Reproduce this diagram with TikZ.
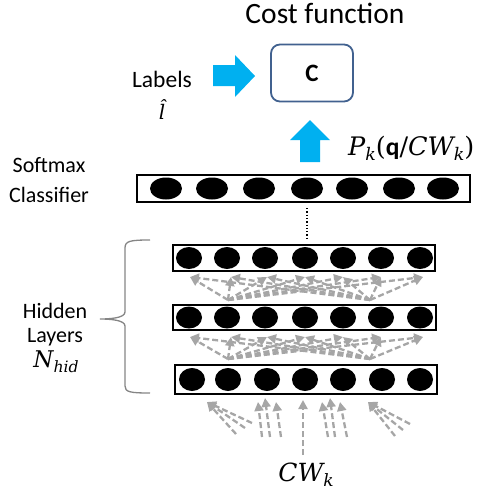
\documentclass[tikz,border=0pt]{standalone}
\usepackage{fontspec}
\usepackage{graphicx}
\setmainfont{Carlito}
\newfontfamily\dvs{DejaVu Serif}
\newcommand\mvar[1]{{\dvs\itshape #1}}
\newcommand\msub[1]{\raisebox{-0.22em}{\scalebox{0.68}{\mvar{#1}}}}
\usetikzlibrary{arrows.meta,shapes.geometric}
\definecolor{arrblue}{HTML}{00B0F0}
\definecolor{boxblue}{HTML}{41618F}
\definecolor{dgray}{HTML}{A6A6A6}
\begin{document}
\begin{tikzpicture}[x=1pt,y=-1pt,
  lbl/.style={font=\fontsize{22}{24}\selectfont, inner sep=0, anchor=base},
  layerbox/.style={draw=black, line width=2.2pt, inner sep=0},
  unit/.style={fill=black, ellipse, inner sep=0, minimum width=26pt, minimum height=22pt},
  sunit/.style={fill=black, ellipse, inner sep=0, minimum width=32pt, minimum height=22pt},
  garrow/.style={draw=dgray, line width=2.3pt, dash pattern=on 6pt off 3pt,
    -{Triangle[length=9pt,width=9pt]}},
  blockarrow/.style={fill=arrblue, draw=none}
]
\useasboundingbox (0,0) rectangle (484,496);

% titles and labels
\node[lbl, font=\fontsize{29.5}{32}\selectfont] (title) at (325,23) {Cost function};
\node[lbl, font=\fontsize{23.5}{26}\selectfont] (labels) at (162,87) {Labels};
\node[lbl, font=\fontsize{20}{24}\selectfont] (lhat) at (162,119) {\mvar{\^{l}}};
\node[lbl] (soft) at (49,172) {Softmax};
\node[lbl] (clas) at (49,202) {Classifier};
\node[lbl] (hid1) at (55,318) {Hidden};
\node[lbl] (hid2) at (55,342) {Layers};
\node[lbl, font=\fontsize{23}{26}\selectfont] (hid3) at (56,367) {\mvar{N}\msub{hid}};
\node[lbl, anchor=base west, font=\fontsize{25.5}{28}\selectfont] (pk) at (348,155)
  {\mvar{P}\msub{k}{\dvs(}\textbf{q}{\dvs/}\mvar{CW}\msub{k}{\dvs)}};
\node[lbl, font=\fontsize{25}{28}\selectfont] (cw) at (306,481) {\mvar{CW}\msub{k}};

% cost box
\node[draw=boxblue, line width=1.8pt, rounded corners=9pt, minimum width=82pt, minimum height=57pt,
  font=\fontsize{25}{28}\selectfont\bfseries] (C) at (312,73) {C};

% blue block arrows
\fill[blockarrow] (213,65) -- (235,65) -- (235,55) -- (255,76) -- (235,97) -- (235,86) -- (213,86) -- cycle;
\fill[blockarrow] (300,162) -- (300,140) -- (290,140) -- (310,120) -- (330,140) -- (320,140) -- (320,162) -- cycle;

% softmax layer
\node[layerbox, minimum width=333pt, minimum height=27pt] (sm) at (303.5,188.5) {};
\foreach \x [count=\i] in {166,212,259,307,352,399,443}
  \node[sunit] (s\i) at (\x,188.5) {};

% hidden layers
\node[layerbox, minimum width=262pt, minimum height=26pt] (h1) at (304,258) {};
\node[layerbox, minimum width=263pt, minimum height=25pt] (h2) at (304.5,317.5) {};
\node[layerbox, minimum width=262pt, minimum height=29pt] (h3) at (306,379.5) {};
\foreach \x [count=\i] in {189,227,265,305,343,381,420}{
  \node[unit] (a\i) at (\x,258) {};
  \node[unit] (b\i) at (\x,317.5) {};
}
\foreach \x [count=\i] in {192,228,267,305,343,382,420}
  \node[unit, minimum height=23pt] (c\i) at (\x,379.5) {};

% dotted link
\coordinate (d1) at (307,208);
\coordinate (d2) at (307,238);
\draw[line width=1.3pt, dash pattern=on 1.3pt off 2pt] (d1) -- (d2);

% connections between layers
\coordinate (pL1) at (228,300);
\coordinate (pR1) at (370,300);
\coordinate (pL2) at (228,359);
\coordinate (pR2) at (370,359);
\foreach \x [count=\i] in {190,231,267,305,343,381,423}{
  \coordinate (t1\i) at (\x,277);
  \coordinate (t2\i) at (\x,337);
  \draw[garrow] (pL1) -- (t1\i);
  \draw[garrow] (pR1) -- (t1\i);
  \draw[garrow] (pL2) -- (t2\i);
  \draw[garrow] (pR2) -- (t2\i);
}

% input arrows
\coordinate (i1a) at (252,423); \coordinate (i1b) at (245,428); \coordinate (i1c) at (236,434);
\coordinate (j1) at (207,402);
\draw[garrow] (i1a) -- (j1); \draw[garrow] (i1b) -- (j1); \draw[garrow] (i1c) -- (j1);
\coordinate (i2a) at (262,437); \coordinate (i2b) at (270,437); \coordinate (i2c) at (281,437);
\coordinate (j2a) at (258,402); \coordinate (j2b) at (265,398); \coordinate (j2c) at (276,402);
\draw[garrow] (i2a) -- (j2a); \draw[garrow] (i2b) -- (j2b); \draw[garrow] (i2c) -- (j2c);
\coordinate (i3) at (303,455); \coordinate (j3) at (303,400);
\draw[garrow] (i3) -- (j3);
\coordinate (i4a) at (328,437); \coordinate (i4b) at (335,437); \coordinate (i4c) at (347,437);
\coordinate (j4a) at (322,402); \coordinate (j4b) at (330,398); \coordinate (j4c) at (340,402);
\draw[garrow] (i4a) -- (j4a); \draw[garrow] (i4b) -- (j4b); \draw[garrow] (i4c) -- (j4c);
\coordinate (i5a) at (410,424); \coordinate (i5b) at (403,430); \coordinate (i5c) at (395,436);
\coordinate (j5) at (368,402);
\draw[garrow] (i5a) -- (j5); \draw[garrow] (i5b) -- (j5); \draw[garrow] (i5c) -- (j5);

% brace
\coordinate (bt) at (150,240);
\coordinate (bm) at (100,319);
\coordinate (bb) at (150,393);
\draw[dgray!80!black, line width=1.3pt] (bt) .. controls (130,240) and (125,241) .. (125,248)
  -- (125,312) .. controls (125,318) and (110,319) .. (bm)
  .. controls (110,319) and (125,320) .. (125,326) -- (125,386)
  .. controls (125,392) and (130,393) .. (bb);
\end{tikzpicture}
\end{document}
